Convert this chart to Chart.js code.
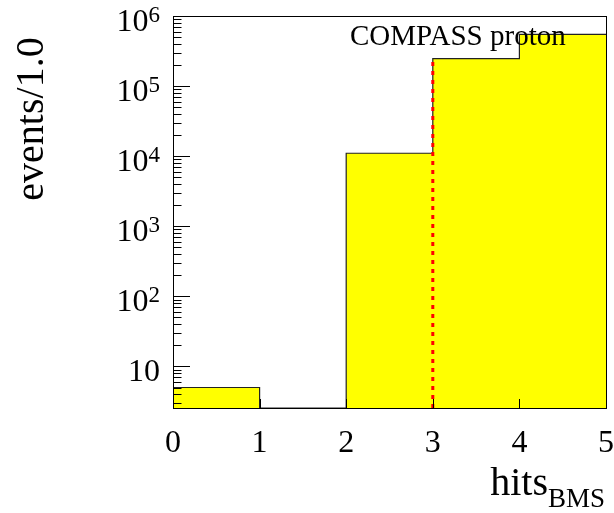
<!DOCTYPE html>
<html>
<head>
<meta charset="utf-8">
<script src="https://cdn.jsdelivr.net/npm/chart.js@4.4.1/dist/chart.umd.min.js"></script>
<style>
    body { margin: 0; background: #fff; }
    #wrap { width: 614px; height: 513px; }
</style>
</head>
<body>
<div id="wrap"><canvas id="hitsChart" width="614" height="513"></canvas></div>
<script>
/* ===========================
   DATA
=========================== */

// bin low edges, hits in BMS
const binEdges = [0, 1, 2, 3, 4, 5];

// events per bin (bin 1-2 is empty)
const binCounts = [5, 0, 11000, 246000, 548000];

// vertical cut marker
const cutX = 3;
const cutTop = 246000;

// axis ticks
const xTickValues = [0, 1, 2, 3, 4, 5];
const xTickLabels = ["0", "1", "2", "3", "4", "5"];
const yTickExponents = [1, 2, 3, 4, 5, 6];

const Y_MIN = 2.55;
const Y_MAX = 1e6;

/* ===========================
   BUILD DATASETS
=========================== */

// step outline: one point per bin edge, last bin repeated at the top edge
const histPoints = binEdges.map((e, i) => {
    const v = i < binCounts.length ? binCounts[i] : binCounts[binCounts.length - 1];
    return { x: e, y: v > 0 ? v : Y_MIN };
});

const cutPoints = [
    { x: cutX, y: Y_MIN },
    { x: cutX, y: cutTop }
];

const SERIF = "'Liberation Serif', 'DejaVu Serif', serif";

/* ===========================
   ROOT STYLE FRAME + LABELS
=========================== */

const rootAxes = {
    id: 'rootAxes',
    afterDatasetsDraw(chart) {
        const { ctx, chartArea: a, scales: { x, y } } = chart;
        ctx.save();
        ctx.strokeStyle = '#000';
        ctx.lineWidth = 1;

        // y ticks, major at decades, minor at 2..9
        ctx.beginPath();
        for (let e = 0; e <= 6; e++) {
            for (let m = 1; m <= 9; m++) {
                const v = m * Math.pow(10, e);
                if (v < y.min || v > y.max * 1.001) continue;
                const py = Math.round(y.getPixelForValue(v)) + 0.5;
                const len = m === 1 ? 17 : 8.5;
                ctx.moveTo(a.left, py);
                ctx.lineTo(a.left + len, py);
            }
        }
        // x ticks
        xTickValues.forEach(v => {
            const px = Math.round(x.getPixelForValue(v)) + 0.5;
            ctx.moveTo(px, a.bottom);
            ctx.lineTo(px, a.bottom - 9);
        });
        ctx.stroke();

        // frame
        ctx.strokeRect(Math.round(a.left) + 0.5, Math.round(a.top) + 0.5,
            Math.round(a.right - a.left), Math.round(a.bottom - a.top));

        ctx.fillStyle = '#000';

        // x tick labels
        ctx.font = '32px ' + SERIF;
        ctx.textAlign = 'center';
        ctx.textBaseline = 'alphabetic';
        xTickValues.forEach((v, i) => {
            ctx.fillText(xTickLabels[i], x.getPixelForValue(v), a.bottom + 44);
        });

        // y tick labels: 10, 10^2 ... 10^6
        const labelRight = a.left - 13;
        yTickExponents.forEach(k => {
            const py = y.getPixelForValue(Math.pow(10, k));
            ctx.textAlign = 'right';
            if (k === 1) {
                ctx.font = '32px ' + SERIF;
                ctx.fillText('10', labelRight, py + 15);
            } else {
                ctx.font = '23px ' + SERIF;
                const sup = String(k);
                const w = ctx.measureText(sup).width;
                ctx.fillText(sup, labelRight, py + 6);
                ctx.font = '32px ' + SERIF;
                ctx.fillText('10', labelRight - w, py + 15);
            }
        });

        // x axis title hits_BMS
        ctx.textAlign = 'right';
        ctx.font = '27px ' + SERIF;
        const subW = ctx.measureText('BMS').width;
        ctx.fillText('BMS', 605, 507);
        ctx.font = '40px ' + SERIF;
        ctx.fillText('hits', 605 - subW, 495);

        // y axis title
        ctx.save();
        ctx.translate(43, 119);
        ctx.rotate(-Math.PI / 2);
        ctx.textAlign = 'center';
        ctx.font = '40px ' + SERIF;
        ctx.fillText('events/1.0', 0, 0);
        ctx.restore();

        // sample label
        ctx.textAlign = 'left';
        ctx.font = '29px ' + SERIF;
        ctx.fillText('COMPASS proton', 350, 45);

        ctx.restore();
    }
};

/* ===========================
   CHART.JS CONFIGURATION
=========================== */

const ctx = document.getElementById('hitsChart');

new Chart(ctx, {
    type: 'line',
    data: {
        datasets: [{
            label: 'hits',
            data: histPoints,
            stepped: 'before',
            borderColor: '#222',
            borderWidth: 1.2,
            backgroundColor: '#ffff00',
            fill: 'start',
            pointRadius: 0,
            order: 2
        }, {
            label: 'cut',
            data: cutPoints,
            borderColor: '#ff0000',
            borderWidth: 3,
            borderDash: [4, 5],
            fill: false,
            pointRadius: 0,
            order: 1
        }]
    },
    options: {
        responsive: false,
        animation: false,
        layout: {
            padding: { left: 173, top: 16, right: 8, bottom: 105 }
        },
        scales: {
            x: {
                type: 'linear',
                min: 0,
                max: 5,
                display: false
            },
            y: {
                type: 'logarithmic',
                min: Y_MIN,
                max: Y_MAX,
                bounds: 'data',
                display: false
            }
        },
        plugins: {
            legend: { display: false },
            tooltip: { enabled: false }
        }
    },
    plugins: [rootAxes]
});
</script>
</body>
</html>
